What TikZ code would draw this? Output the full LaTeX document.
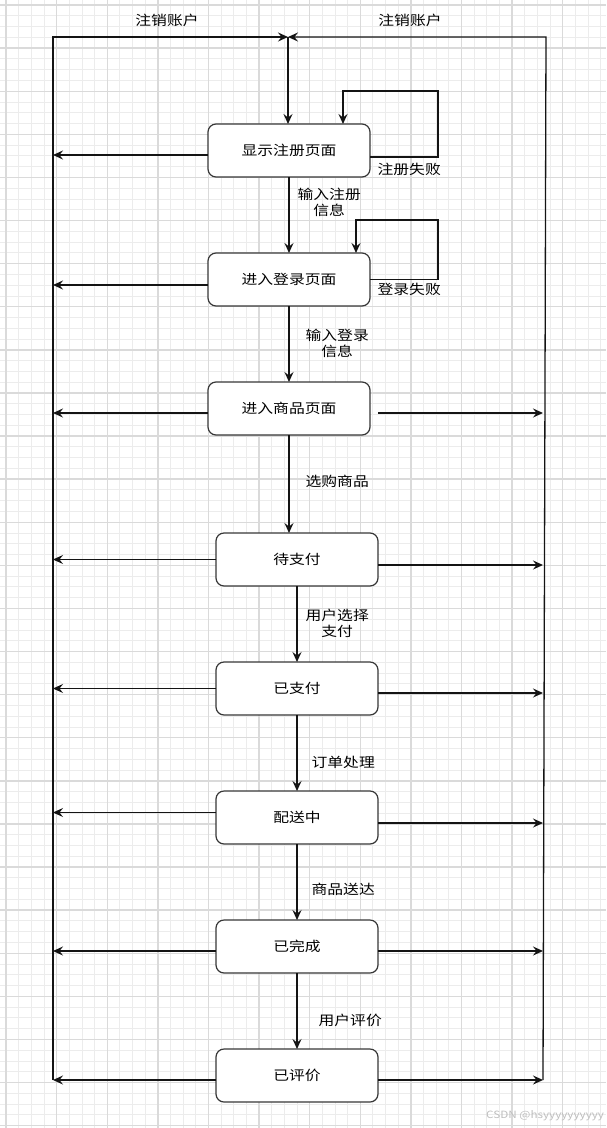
\documentclass[tikz,border=0pt]{standalone}
\usepackage{fontspec}
\usepackage{xcolor}
\usetikzlibrary{arrows.meta,positioning,calc}
\newfontfamily\cjk[FakeStretch=1.17]{Noto Sans CJK SC}
\definecolor{gridmajor}{RGB}{218,218,218}
\definecolor{gridminor}{RGB}{236,236,236}
\definecolor{linecolor}{RGB}{20,20,20}
\definecolor{bordercolor}{RGB}{55,55,55}
\definecolor{markcolor}{RGB}{190,190,190}

\begin{document}
\begin{tikzpicture}[
	x=1pt, y=-1pt,
	node distance=76pt,
	>={Stealth[length=10pt,width=9pt,inset=3.5pt]},
	state/.style={
		rectangle,
		draw=bordercolor,
		fill=white,
		line width=1.2pt,
		outer sep=0pt,
		rounded corners=8pt,
		minimum width=162pt,
		minimum height=53pt,
		font=\cjk\fontsize{13.5}{16}\selectfont
	},
	line/.style={
		draw=linecolor,
		->,
		line width=1.3pt
	},
	cond/.style={
		font=\cjk\fontsize{13.5}{16}\selectfont,
		align=center,
		inner sep=1pt
	}
	]
	
	% Background Grid
	\useasboundingbox (0,0) rectangle (606,1128);
	\foreach \i in {0,...,47}
		\draw[gridminor, line width=0.8pt] (6+\i*12.65,0) -- (6+\i*12.65,1128);
	\foreach \j in {0,...,104}
		\draw[gridminor, line width=0.8pt] (0,5+\j*10.775) -- (606,5+\j*10.775);
	\foreach \i in {0,...,11}
		\draw[gridmajor, line width=1.4pt] (6+\i*50.6,0) -- (6+\i*50.6,1128);
	\foreach \j in {0,...,26}
		\draw[gridmajor, line width=1.4pt] (0,5+\j*43.1) -- (606,5+\j*43.1);
	
	% State Blocks
	\node[state] (reg) at (289,150.5) {显示注册页面};
	\node[state,below=of reg] (login) {进入登录页面};
	\node[state,below=of login] (shop) {进入商品页面};
	\node[state,below=98pt of shop,xshift=8pt] (unpaid) {待支付};
	\node[state,below=of unpaid] (paid) {已支付};
	\node[state,below=of paid] (deliver) {配送中};
	\node[state,below=of deliver] (done) {已完成};
	\node[state,below=of done] (rated) {已评价};
	
	% Outer Frame
	\coordinate (tl) at (53,37);
	\coordinate (tr) at (546,37);
	\coordinate (bl) at (53,1080);
	\coordinate (br) at (543,1080);
	\coordinate (top) at (288,37);
	\node[cond] (cancel-l) at (167,20) {注销账户};
	\node[cond] (cancel-r) at (410,20) {注销账户};
	\path[line] (bl) -- (tl) -- (top);
	\path[line] (br) -- (tr) -- (top);
	\path[line] (top) -- (top |- reg.north);
	
	% Main Flow
	\path[line] (reg) -- node[cond,pos=0.34,right=7pt] {输入注册\\信息} (login);
	\path[line] (login) -- node[cond,pos=0.49,right=15pt] {输入登录\\信息} (shop);
	\path[line] (shop) -- node[cond,pos=0.47,right=15pt] {选购商品} (shop.south |- unpaid.north);
	\path[line] (unpaid) -- node[cond,pos=0.49,right=7pt] {用户选择\\支付} (paid);
	\path[line] (paid) -- node[cond,pos=0.62,right=13pt] {订单处理} (deliver);
	\path[line] (deliver) -- node[cond,pos=0.6,right=13pt] {商品送达} (done);
	\path[line] (done) -- node[cond,pos=0.62,right=20pt] {用户评价} (rated);
	
	% Failure Loops
	\coordinate (regloop) at (438,91);
	\coordinate (loginloop) at (438,220);
	\path[line] ([yshift=-6.5pt]reg.east) node[cond,below right=4pt and 6pt] {注册失败}
		-| (regloop) -| ([xshift=54pt]reg.north);
	\path[line] (login.east) node[cond,below right=2pt and 6pt] {登录失败}
		-| (loginloop) -| ([xshift=67pt]login.north);
	
	% Left Arrows
	\path[line] ([yshift=-4.5pt]reg.west) -- ([yshift=-4.5pt]reg.west -| tl);
	\path[line] ([yshift=-5.5pt]login.west) -- ([yshift=-5.5pt]login.west -| tl);
	\path[line] ([yshift=-4.5pt]shop.west) -- ([yshift=-4.5pt]shop.west -| tl);
	\path[line] (unpaid.west) -- (unpaid.west -| tl);
	\path[line] (paid.west) -- (paid.west -| tl);
	\path[line] ([yshift=5pt]deliver.west) -- ([yshift=5pt]deliver.west -| tl);
	\path[line] ([yshift=-4.5pt]done.west) -- ([yshift=-4.5pt]done.west -| tl);
	\path[line] ([yshift=-4.5pt]rated.west) -- (bl);
	
	% Right Arrows
	\path[line] ([xshift=8pt,yshift=-4.5pt]shop.east) -- ([yshift=-4.5pt]shop.east -| br);
	\path[line] ([yshift=-5.5pt]unpaid.east) -- ([yshift=-5.5pt]unpaid.east -| br);
	\path[line] ([yshift=-4.5pt]paid.east) -- ([yshift=-4.5pt]paid.east -| br);
	\path[line] ([yshift=-5.5pt]deliver.east) -- ([yshift=-5.5pt]deliver.east -| br);
	\path[line] ([yshift=-4.5pt]done.east) -- ([yshift=-4.5pt]done.east -| br);
	\path[line] ([yshift=-4.5pt]rated.east) -- (br);
	
	% Watermark
	\begin{scope}
		\clip (0,0) rectangle (606,1128);
		\node[anchor=west, font=\cjk\fontsize{10}{11}\selectfont, text=markcolor, inner sep=0pt] (mark) at (486,1116) {CSDN @hsyyyyyyyyyy};
	\end{scope}
	
\end{tikzpicture}
\end{document}
